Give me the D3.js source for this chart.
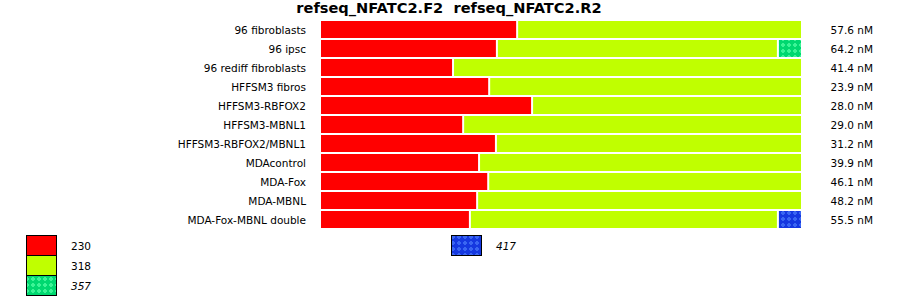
<!DOCTYPE html>
<html>
<head>
<meta charset="utf-8">
<script src="https://cdn.jsdelivr.net/npm/d3@7"></script>
<style>
  body { margin: 0; background: #fff; }
  text { font-family: "DejaVu Sans", sans-serif; fill: #000; }
</style>
</head>
<body>
<svg id="chart" width="900" height="299"></svg>
<script>
// Samples (rows), top to bottom
var samples = ["96 fibroblasts", "96 ipsc", "96 rediff fibroblasts", "HFFSM3 fibros",
  "HFFSM3-RBFOX2", "HFFSM3-MBNL1", "HFFSM3-RBFOX2/MBNL1", "MDAcontrol",
  "MDA-Fox", "MDA-MBNL", "MDA-Fox-MBNL double"];

var concentrations = ["57.6 nM", "64.2 nM", "41.4 nM", "23.9 nM", "28.0 nM", "29.0 nM",
  "31.2 nM", "39.9 nM", "46.1 nM", "48.2 nM", "55.5 nM"];

// product sizes (legend)
var products = ["230", "318", "357", "417"];

// percent of each product per sample
var p230 = [40.9, 36.7, 27.6, 35.1, 44.0, 29.7, 36.5, 33.0, 34.9, 32.6, 31.1];
var p318 = [59.1, 58.3, 72.4, 64.9, 56.0, 70.3, 63.5, 67.0, 65.1, 67.4, 63.9];
var p357 = [0, 5.0, 0, 0, 0, 0, 0, 0, 0, 0, 0];
var p417 = [0, 0, 0, 0, 0, 0, 0, 0, 0, 0, 5.0];

var svg = d3.select("#chart");

var fills = {"230": "#ff0000", "318": "#c0ff00", "357": "url(#pat357)", "417": "url(#pat417)"};
var italic = {"230": false, "318": false, "357": true, "417": true};

// dotted patterns
var defs = svg.append("defs");
[["pat357", "#00d870", "#3cf496"], ["pat417", "#1538e0", "#3a66f2"]].forEach(function(p) {
  var pat = defs.append("pattern")
      .attr("id", p[0])
      .attr("patternUnits", "userSpaceOnUse")
      .attr("width", 6).attr("height", 6);
  pat.append("rect").attr("width", 6).attr("height", 6).attr("fill", p[1]);
  pat.append("rect").attr("x", 2).attr("y", 1).attr("width", 2).attr("height", 4).attr("fill", p[2]);
  pat.append("rect").attr("x", 1).attr("y", 2).attr("width", 4).attr("height", 2).attr("fill", p[2]);
});

var x = d3.scaleLinear().domain([0, 100]).range([321, 803]);
var y = d3.scaleBand().domain(samples).range([21, 228]).paddingInner(2 / 19).paddingOuter(0);

// title
svg.append("text")
    .attr("x", 449)
    .attr("y", 13)
    .attr("text-anchor", "middle")
    .style("font-size", "14.6px")
    .style("font-weight", "bold")
    .style("white-space", "pre")
    .text("refseq_NFATC2.F2  refseq_NFATC2.R2");

// stacked bars
var series = [p230, p318, p357, p417];
samples.forEach(function(s, i) {
  var acc = 0;
  series.forEach(function(arr, k) {
    var v = arr[i];
    if (v <= 0) return;
    svg.append("rect")
        .attr("x", x(acc))
        .attr("y", y(s))
        .attr("width", x(acc + v) - x(acc) - 2)
        .attr("height", y.bandwidth())
        .attr("fill", fills[products[k]]);
    acc += v;
  });
});

// row labels
svg.append("g").selectAll("text")
    .data(samples)
  .enter().append("text")
    .attr("x", 306)
    .attr("y", function(d) { return y(d) + y.bandwidth() / 2 + 1; })
    .attr("dy", "0.35em")
    .attr("text-anchor", "end")
    .style("font-size", "10.5px")
    .text(function(d) { return d; });

// concentrations
svg.append("g").selectAll("text")
    .data(concentrations)
  .enter().append("text")
    .attr("x", 873)
    .attr("y", function(d, i) { return y(samples[i]) + y.bandwidth() / 2 + 1; })
    .attr("dy", "0.35em")
    .attr("text-anchor", "end")
    .style("font-size", "10.5px")
    .text(function(d) { return d; });

// legend
var legendPos = {"230": [26, 235], "318": [26, 255], "357": [26, 275], "417": [451, 235]};
products.forEach(function(p) {
  var pos = legendPos[p];
  svg.append("rect")
      .attr("x", pos[0] + 0.5)
      .attr("y", pos[1] + 0.5)
      .attr("width", 30)
      .attr("height", 20)
      .attr("fill", fills[p])
      .attr("stroke", "#000")
      .attr("stroke-width", 1);
  svg.append("text")
      .attr("x", pos[0] + 45)
      .attr("y", pos[1] + 11)
      .attr("dy", "0.35em")
      .style("font-size", "10.5px")
      .style("font-style", italic[p] ? "italic" : "normal")
      .text(p);
});
</script>
</body>
</html>
